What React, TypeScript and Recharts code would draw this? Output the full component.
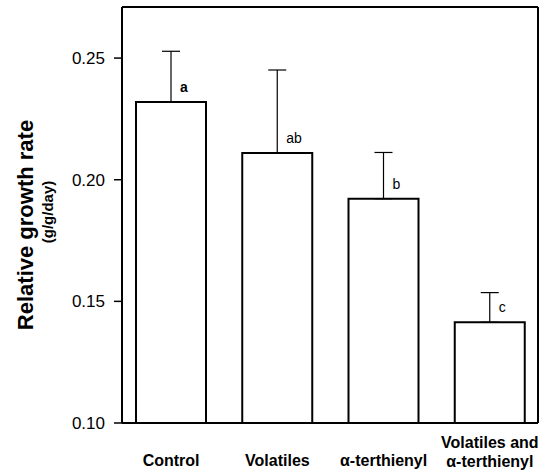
import React from 'react';
import { BarChart, Bar, XAxis, YAxis, ErrorBar, LabelList } from 'recharts';

const categories = ["Control", "Volatiles", "α-terthienyl", "Volatiles and\nα-terthienyl"];
const means = [0.232, 0.211, 0.1922, 0.1414];
const errors = [0.0208, 0.0341, 0.019, 0.0122];
const letters = ["a", "ab", "b", "c"];
const yTicks = [0.10, 0.15, 0.20, 0.25];

const data = categories.map((c, i) => ({
  name: c,
  mean: means[i],
  err: [0, errors[i]],
  letter: letters[i],
}));

const FONT = '"Liberation Sans", Arial, Helvetica, sans-serif';

const XTick = (props: any) => {
  const { x, y, payload } = props;
  const lines = String(payload.value).split('\n');
  if (lines.length === 1) {
    return (
      <text x={x} y={y + 43} textAnchor="middle" fontFamily={FONT} fontWeight="bold" fontSize={16} fill="#000">
        {lines[0]}
      </text>
    );
  }
  return (
    <g>
      {lines.map((l, i) => (
        <text key={i} x={x} y={y + 25 + i * 19} textAnchor="middle" fontFamily={FONT} fontWeight="bold" fontSize={16} fill="#000">
          {l}
        </text>
      ))}
    </g>
  );
};

const LetterLabel = (props: any) => {
  const { x, y, width, value, index } = props;
  return (
    <text
      x={x + width / 2 + 9}
      y={y - 15}
      dominantBaseline="central"
      textAnchor="start"
      fontFamily={FONT}
      fontSize={14}
      fontWeight={index === 0 ? 'bold' : 'normal'}
      fill="#000"
    >
      {value}
    </text>
  );
};

const YTitle = () => (
  <g>
    <text
      x={25}
      y={225}
      transform="rotate(-90 25 225)"
      textAnchor="middle"
      dominantBaseline="central"
      fontFamily={FONT}
      fontWeight="bold"
      fontSize={22}
      fill="#000"
    >
      Relative growth rate
    </text>
    <text
      x={47}
      y={212}
      transform="rotate(-90 47 212)"
      textAnchor="middle"
      dominantBaseline="central"
      fontFamily={FONT}
      fontWeight="bold"
      fontSize={15}
      fill="#000"
    >
      (g/g/day)
    </text>
  </g>
);

export default function App() {
  return (
    <div style={{ position: 'absolute', left: 0, top: 0, background: '#fff' }}>
      <BarChart
        width={544}
        height={474}
        data={data}
        margin={{ top: 6, right: 5, bottom: 0, left: 0 }}
        barSize={70}
      >
        <XAxis
          dataKey="name"
          interval={0}
          height={51}
          tickLine={false}
          tickSize={0}
          tickMargin={0}
          padding={{ left: -4, right: -5 }}
          axisLine={{ stroke: '#000', strokeWidth: 2 }}
          tick={<XTick />}
        />
        <XAxis
          dataKey="name"
          xAxisId="top"
          orientation="top"
          height={1}
          tick={false}
          tickLine={false}
          padding={{ left: -4, right: -5 }}
          axisLine={{ stroke: '#000', strokeWidth: 2 }}
        />
        <YAxis
          width={122}
          domain={[0.1, 0.271]}
          allowDataOverflow
          ticks={yTicks}
          interval={0}
          tickFormatter={(v: number) => v.toFixed(2)}
          tickSize={8}
          tickMargin={9}
          tick={{ fontFamily: FONT, fontSize: 17, fill: '#000' }}
          tickLine={{ stroke: '#000', strokeWidth: 1.5 }}
          axisLine={{ stroke: '#000', strokeWidth: 2 }}
          label={<YTitle />}
        />
        <YAxis
          yAxisId="r"
          orientation="right"
          width={1}
          domain={[0.1, 0.271]}
          tick={false}
          tickLine={false}
          axisLine={{ stroke: '#000', strokeWidth: 2 }}
        />
        <Bar dataKey="mean" fill="#fff" stroke="#000" strokeWidth={2} isAnimationActive={false}>
          <ErrorBar dataKey="err" width={9} stroke="#000" strokeWidth={1.2} direction="y" isAnimationActive={false} />
          <LabelList dataKey="letter" content={<LetterLabel />} />
        </Bar>
      </BarChart>
    </div>
  );
}
